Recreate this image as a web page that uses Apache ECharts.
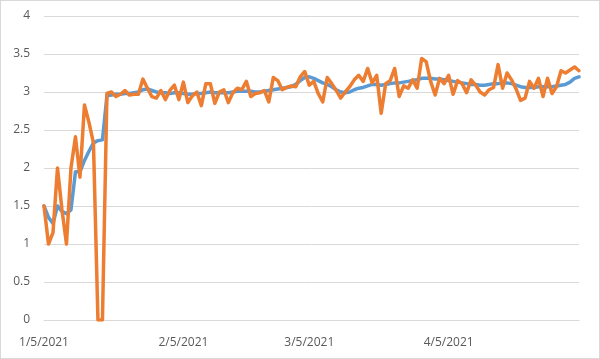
<!DOCTYPE html>
<html>
<head>
<meta charset="utf-8">
<script src="https://cdn.jsdelivr.net/npm/echarts@6/dist/echarts.min.js"></script>
<style>
  html, body { margin: 0; padding: 0; background: #fff; }
  #chart { width: 600px; height: 359px; box-sizing: border-box; border: 1px solid #d9d9d9; }
</style>
</head>
<body>
<div id="chart"></div>
<script>
// daily dates from 1/5/2021, 120 days
const startDate = new Date(2021, 0, 5)
const dayCount = 120
const dates = []
for (let i = 0; i < dayCount; i++) {
  const d = new Date(startDate.getFullYear(), startDate.getMonth(), startDate.getDate() + i)
  dates.push((d.getMonth() + 1) + '/' + d.getDate() + '/' + d.getFullYear())
}

// smoothed series (blue)
const blueValues = [
  1.5, 1.35, 1.27, 1.5, 1.43, 1.4, 1.45, 1.95, 1.95, 2.1,
  2.22, 2.33, 2.36, 2.37, 2.95, 2.96, 2.97, 2.97, 2.98, 2.98,
  2.99, 3.0, 3.03, 3.04, 3.02, 3.0, 2.99, 2.99, 2.98, 2.99,
  2.99, 2.98, 2.97, 2.97, 2.98, 2.98, 2.99, 3.0, 2.99, 2.99,
  2.99, 2.99, 3.0, 3.01, 3.01, 3.01, 3.01, 3.0, 3.0, 3.01,
  3.02, 3.03, 3.04, 3.05, 3.06, 3.07, 3.1, 3.15, 3.19, 3.2,
  3.18, 3.15, 3.12, 3.1, 3.07, 3.03, 3.0, 2.99, 3.0, 3.03,
  3.05, 3.06, 3.08, 3.1, 3.1, 3.09, 3.1, 3.11, 3.12, 3.12,
  3.13, 3.14, 3.15, 3.16, 3.18, 3.18, 3.18, 3.17, 3.17, 3.16,
  3.15, 3.14, 3.13, 3.12, 3.11, 3.1, 3.1, 3.09, 3.09, 3.1,
  3.11, 3.11, 3.12, 3.12, 3.11, 3.09, 3.07, 3.06, 3.06, 3.06,
  3.07, 3.07, 3.07, 3.07, 3.08, 3.09, 3.1, 3.13, 3.18, 3.2
]

// daily series (orange)
const orangeValues = [
  1.5, 1.0, 1.15, 2.0, 1.45, 1.0, 2.0, 2.41, 1.88, 2.83,
  2.6, 2.33, 0, 0, 2.98, 3.0, 2.94, 2.97, 3.02, 2.96,
  2.97, 2.97, 3.17, 3.05, 2.94, 2.92, 3.02, 2.9, 3.02, 3.09,
  2.9, 3.13, 2.86, 2.95, 3.0, 2.82, 3.11, 3.11, 2.85, 3.0,
  3.03, 2.86, 2.99, 3.05, 3.03, 3.14, 2.94, 2.98, 2.99, 3.02,
  2.87, 3.19, 3.15, 3.03, 3.06, 3.08, 3.07, 3.2, 3.27, 3.09,
  3.14, 2.98, 2.87, 3.19, 3.11, 3.02, 2.92, 3.0, 3.07, 3.16,
  3.22, 3.14, 3.31, 3.12, 3.22, 2.72, 3.11, 3.15, 3.31, 2.94,
  3.08, 3.05, 3.16, 3.05, 3.44, 3.4, 3.14, 2.96, 3.18, 3.11,
  3.22, 2.97, 3.15, 3.11, 2.99, 3.16, 3.09, 3.0, 2.96, 3.03,
  3.06, 3.36, 3.05, 3.25, 3.16, 3.04, 2.89, 2.92, 3.14, 3.05,
  3.18, 2.94, 3.18, 2.98, 3.07, 3.28, 3.25, 3.29, 3.33, 3.28
]

const yTicks = [0, 0.5, 1, 1.5, 2, 2.5, 3, 3.5, 4]

const chart = echarts.init(document.getElementById('chart'))

const labelFont = { color: '#595959', fontSize: 12, fontFamily: 'Open Sans, Liberation Sans, sans-serif' }

chart.setOption({
  animation: false,
  grid: { left: 43, right: 20, top: 15, bottom: 38 },
  xAxis: {
    type: 'category',
    data: dates,
    boundaryGap: false,
    axisLine: { lineStyle: { color: '#d9d9d9', width: 1 } },
    axisTick: { show: false },
    axisLabel: {
      ...labelFont,
      margin: 17,
      interval: (idx, val) => val.split('/')[1] === '5',
    },
    splitLine: { show: false },
  },
  yAxis: {
    type: 'value',
    min: yTicks[0],
    max: yTicks[yTicks.length - 1],
    interval: 0.5,
    axisLine: { show: false },
    axisTick: { show: false },
    axisLabel: { ...labelFont, margin: 14 },
    splitLine: { lineStyle: { color: '#d9d9d9', width: 1 } },
  },
  series: [
    {
      type: 'line',
      data: blueValues,
      symbol: 'none',
      lineStyle: { color: '#5B9BD5', width: 3.5, cap: 'round', join: 'round' },
      itemStyle: { color: '#5B9BD5' },
      z: 2,
    },
    {
      type: 'line',
      data: orangeValues,
      symbol: 'none',
      lineStyle: { color: '#ED7D31', width: 3.5, cap: 'round', join: 'round' },
      itemStyle: { color: '#ED7D31' },
      z: 3,
    },
  ],
})
</script>
</body>
</html>
